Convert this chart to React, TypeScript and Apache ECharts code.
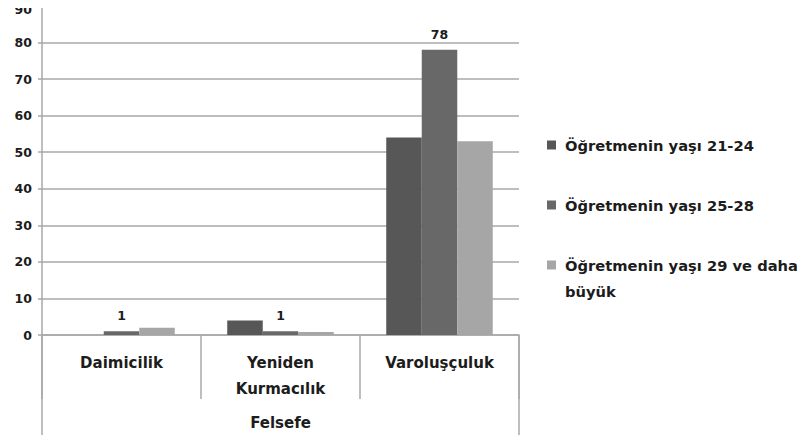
import React, { useEffect, useRef } from "react";
import * as echarts from "echarts";

const categories = ["Daimicilik", "Yeniden\nKurmacılık", "Varoluşçuluk"];
const groupLabel = ["Felsefe"];
const seriesNames = [
  "Öğretmenin yaşı 21-24",
  "Öğretmenin yaşı 25-28",
  "Öğretmenin yaşı 29 ve daha büyük",
];
const age2124 = [0, 4, 54];
const age2528 = [1, 1, 78];
const age29plus = [2, 0.8, 53];
const yTicks = { min: 0, max: 90, interval: 10 };

const FONT = "DejaVu Sans";
const TEXT = "#1c1c1c";
const GRAY = "#a8a8a8";
const colors = ["#575757", "#686868", "#a6a6a6"];

export default function App() {
  const ref = useRef<HTMLDivElement>(null);
  useEffect(() => {
    if (!ref.current) return;
    const chart = echarts.init(ref.current, undefined, { renderer: "svg" });
    const legendBase = {
      orient: "vertical" as const,
      left: 547,
      padding: 0,
      icon: "rect",
      itemWidth: 9,
      itemHeight: 9,
      selectedMode: false,
    };
    const legendText = {
      fontFamily: FONT,
      fontWeight: "bold",
      fontSize: 14.7,
      color: TEXT,
      lineHeight: 26,
      padding: [0, 0, 0, 4],
    };
    const yLabelStyle = {
      fontFamily: FONT,
      fontWeight: "bold",
      fontSize: 12.5,
      color: TEXT,
    };
    chart.setOption({
      animation: false,
      backgroundColor: "#ffffff",
      color: colors,
      grid: { left: 42, right: 286, top: 6, bottom: 108, containLabel: false },
      legend: [
        { ...legendBase, top: 132, data: [seriesNames[0]], textStyle: legendText },
        { ...legendBase, top: 192, data: [seriesNames[1]], textStyle: legendText },
        {
          ...legendBase,
          top: 226,
          data: [seriesNames[2]],
          formatter: () => "\nÖğretmenin yaşı 29 ve daha\nbüyük",
          textStyle: legendText,
        },
      ],
      xAxis: [
        {
          type: "category",
          data: categories,
          position: "bottom",
          axisLine: { show: true, lineStyle: { color: GRAY, width: 1.5 } },
          axisTick: { show: true, length: 64, lineStyle: { color: GRAY, width: 1.5 } },
          axisLabel: {
            margin: 15,
            fontFamily: FONT,
            fontWeight: "bold",
            fontSize: 15,
            color: TEXT,
            lineHeight: 26,
          },
        },
        {
          type: "category",
          data: groupLabel,
          position: "bottom",
          axisLine: { show: false },
          axisTick: { show: true, length: 106, lineStyle: { color: GRAY, width: 1.5 } },
          axisLabel: {
            margin: 80,
            fontFamily: FONT,
            fontWeight: "bold",
            fontSize: 15,
            color: TEXT,
          },
        },
      ],
      yAxis: {
        type: "value",
        min: yTicks.min,
        max: yTicks.max,
        interval: yTicks.interval,
        axisLine: { show: true, lineStyle: { color: GRAY, width: 1.5 } },
        axisTick: { show: true, length: 4, lineStyle: { color: GRAY, width: 1.5 } },
        splitLine: { show: true, lineStyle: { color: GRAY, width: 1.5 } },
        axisLabel: {
          margin: 10,
          ...yLabelStyle,
          formatter: (v: number) => (v === yTicks.max ? "{top|" + v + "}" : String(v)),
          rich: { top: { ...yLabelStyle, padding: [6, 0, 0, 0] } },
        },
      },
      series: [
        {
          name: seriesNames[0],
          type: "bar",
          data: age2124,
          barGap: "0%",
          barCategoryGap: "33%",
          itemStyle: { color: colors[0] },
        },
        {
          name: seriesNames[1],
          type: "bar",
          data: age2528,
          itemStyle: { color: colors[1] },
          label: {
            show: true,
            position: "top",
            distance: 9,
            fontFamily: FONT,
            fontWeight: "bold",
            fontSize: 12.5,
            color: TEXT,
          },
        },
        {
          name: seriesNames[2],
          type: "bar",
          data: age29plus,
          itemStyle: { color: colors[2] },
        },
      ],
    });
    return () => chart.dispose();
  }, []);
  return <div ref={ref} style={{ width: 805, height: 443, margin: -8 }} />;
}
